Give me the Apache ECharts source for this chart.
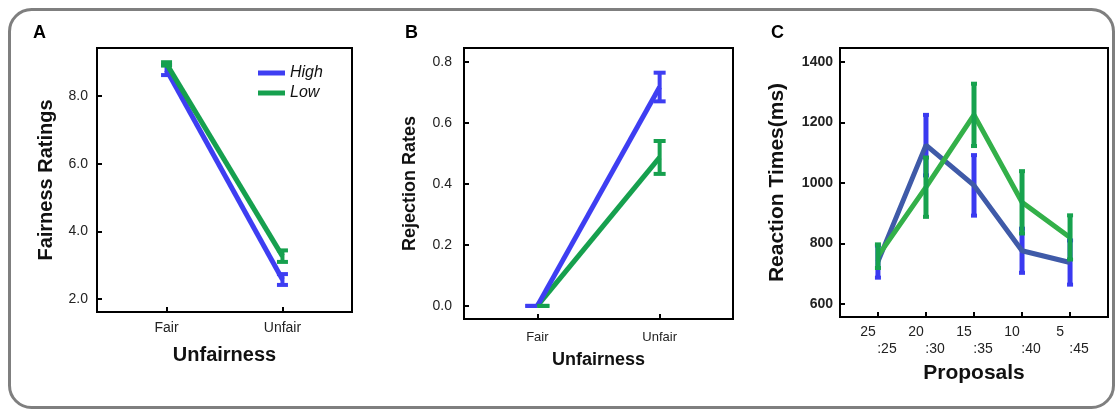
<!DOCTYPE html>
<html><head><meta charset="utf-8">
<script src="https://cdn.jsdelivr.net/npm/echarts@6/dist/echarts.min.js"></script>
<style>html,body{margin:0;padding:0;background:#fff}#c{width:1115px;height:410px}</style>
</head><body><div id="c"></div>
<script>
// ---- Data ----
const unfairnessCats = ['Fair', 'Unfair'];
const fairHighMean = [8.77, 2.58];
const fairHighErr  = [0.15, 0.16];
const fairLowMean  = [8.95, 3.27];
const fairLowErr   = [0.05, 0.17];
const fairTicks = [2, 4, 6, 8];

const rejHighMean = [0, 0.718];
const rejHighErr  = [0, 0.047];
const rejLowMean  = [0, 0.487];
const rejLowErr   = [0, 0.054];
const rejTicks = [0, 0.2, 0.4, 0.6, 0.8];

const proposalTop    = ['25', '20', '15', '10', '5'];
const proposalBottom = [':25', ':30', ':35', ':40', ':45'];
const rtHighMean = [740, 1125, 992, 776, 737];
const rtHighErr  = [53, 100, 100, 73, 73];
const rtLowMean  = [758, 986, 1225, 936, 820];
const rtLowErr   = [39, 98, 103, 103, 73];
const rtTicks = [600, 800, 1000, 1200, 1400];

// ---- Style ----
const FONT = "'Liberation Sans', Arial, Helvetica, sans-serif";
const BLUE = '#3e3ef2';
const GREEN = '#16a04e';
const C_BLUE_LINE = '#3f5aa8';
const C_GREEN_LINE = '#33b049';
const C_BLUE_ERR = '#3a3af0';
const C_GREEN_ERR = '#17a24e';

function idx(a) { return a.map((_, i) => i); }
function lineData(means) { return means.map((m, i) => [i, m]); }
function errData(means, errs) { return means.map((m, i) => [i, m - errs[i], m + errs[i]]); }

function errRender(color, lw, capW, capT, zeroSide) {
  return function (params, api) {
    const x = api.value(0), lo = api.value(1), hi = api.value(2);
    const p1 = api.coord([x, lo]), p2 = api.coord([x, hi]);
    let a = p1[0] - capW / 2, b = p1[0] + capW / 2;
    if (hi === lo && zeroSide) {
      if (zeroSide < 0) { a = p1[0] - capW; b = p1[0]; }
      else { a = p1[0]; b = p1[0] + capW; }
    }
    const st = { stroke: color, lineWidth: capT };
    return {
      type: 'group',
      children: [
        { type: 'line', shape: { x1: p1[0], y1: p1[1], x2: p2[0], y2: p2[1] }, style: { stroke: color, lineWidth: lw } },
        { type: 'line', shape: { x1: a, y1: p1[1], x2: b, y2: p1[1] }, style: st },
        { type: 'line', shape: { x1: a, y1: p2[1], x2: b, y2: p2[1] }, style: st }
      ]
    };
  };
}

function xAx(g, min, max, ticks, fmt, labelOpt, name, nameGap, nameSize) {
  return {
    gridIndex: g, type: 'value', min: min, max: max,
    splitLine: { show: false }, axisLine: { show: false, onZero: false },
    axisTick: { show: true, inside: true, length: 5, customValues: ticks, lineStyle: { color: '#000', width: 2 } },
    axisLabel: Object.assign({ customValues: ticks, formatter: fmt, color: '#222', fontFamily: FONT }, labelOpt),
    name: name, nameLocation: 'middle', nameGap: nameGap,
    nameTextStyle: { fontWeight: 'bold', fontSize: nameSize, color: '#111', fontFamily: FONT }
  };
}
function yAx(g, min, max, ticks, fmt, labelOpt, name, nameGap, nameSize) {
  return {
    gridIndex: g, type: 'value', min: min, max: max,
    splitLine: { show: false }, axisLine: { show: false, onZero: false },
    axisTick: { show: true, inside: true, length: 5, customValues: ticks, lineStyle: { color: '#000', width: 2 } },
    axisLabel: Object.assign({ customValues: ticks, formatter: fmt, color: '#222', fontFamily: FONT }, labelOpt),
    name: name, nameLocation: 'middle', nameGap: nameGap, nameRotate: 90,
    nameTextStyle: { fontWeight: 'bold', fontSize: nameSize, color: '#111', fontFamily: FONT }
  };
}

const chart = echarts.init(document.getElementById('c'), null, { renderer: 'canvas' });
const gridBase = { show: true, borderColor: '#000', borderWidth: 2, backgroundColor: 'transparent', containLabel: false };

const option = {
  animation: false,
  textStyle: { fontFamily: FONT },
  grid: [
    Object.assign({ left: 97, top: 48, width: 255, height: 264 }, gridBase),
    Object.assign({ left: 464, top: 48, width: 269, height: 271 }, gridBase),
    Object.assign({ left: 840, top: 48, width: 268, height: 269 }, gridBase)
  ],
  xAxis: [
    xAx(0, -0.6, 1.6, idx(unfairnessCats), v => unfairnessCats[Math.round(v)], { fontSize: 14, margin: 9 }, 'Unfairness', 33, 20),
    xAx(1, -0.6, 1.6, idx(unfairnessCats), v => unfairnessCats[Math.round(v)], { fontSize: 13, margin: 12 }, 'Unfairness', 32, 18),
    xAx(2, -0.79, 4.79, idx(proposalTop), v => '{a|' + proposalTop[Math.round(v)] + '}\n{b|' + proposalBottom[Math.round(v)] + '}',
      { margin: 7, lineHeight: 17, rich: {
        a: { fontSize: 14, color: '#222', padding: [0, 20, 0, 0], fontFamily: FONT, lineHeight: 17 },
        b: { fontSize: 14, color: '#222', padding: [0, 0, 0, 18], fontFamily: FONT, lineHeight: 17 } } },
      'Proposals', 41, 21)
  ],
  yAxis: [
    yAx(0, 1.62, 9.42, fairTicks, v => v.toFixed(1), { fontSize: 14, margin: 9 }, 'Fairness Ratings', 41, 20),
    yAx(1, -0.043, 0.846, rejTicks, v => v.toFixed(1), { fontSize: 14, margin: 12 }, 'Rejection Rates', 45, 18),
    yAx(2, 557, 1446, rtTicks, v => String(v), { fontSize: 14, fontWeight: 'bold', margin: 7 }, 'Reaction Times(ms)', 52, 21)
  ],
  legend: {
    data: ['High', 'Low'], selectedMode: false, orient: 'vertical', padding: 0,
    left: 258, top: 65, itemGap: 4, itemWidth: 27, itemHeight: 5, icon: 'rect',
    textStyle: { fontStyle: 'italic', fontSize: 16, color: '#111', fontFamily: FONT }
  },
  series: [
    // Panel A
    { name: 'High', type: 'line', xAxisIndex: 0, yAxisIndex: 0, data: lineData(fairHighMean), symbol: 'none', color: BLUE, lineStyle: { width: 5, color: BLUE } },
    { name: 'Low', type: 'line', xAxisIndex: 0, yAxisIndex: 0, data: lineData(fairLowMean), symbol: 'none', color: GREEN, lineStyle: { width: 5, color: GREEN } },
    { type: 'custom', xAxisIndex: 0, yAxisIndex: 0, data: errData(fairHighMean, fairHighErr), renderItem: errRender(BLUE, 4, 11, 4, 0), z: 3 },
    { type: 'custom', xAxisIndex: 0, yAxisIndex: 0, data: errData(fairLowMean, fairLowErr), renderItem: errRender(GREEN, 4, 11, 4, 0), z: 3 },
    // Panel B
    { name: 'High', type: 'line', xAxisIndex: 1, yAxisIndex: 1, data: lineData(rejHighMean), symbol: 'none', color: BLUE, lineStyle: { width: 5, color: BLUE }, z: 3 },
    { name: 'Low', type: 'line', xAxisIndex: 1, yAxisIndex: 1, data: lineData(rejLowMean), symbol: 'none', color: GREEN, lineStyle: { width: 5, color: GREEN }, z: 2 },
    { type: 'custom', xAxisIndex: 1, yAxisIndex: 1, data: errData(rejHighMean, rejHighErr), renderItem: errRender(BLUE, 4, 12, 4, -1), z: 4 },
    { type: 'custom', xAxisIndex: 1, yAxisIndex: 1, data: errData(rejLowMean, rejLowErr), renderItem: errRender(GREEN, 4, 12, 4, 1), z: 4 },
    // Panel C
    { name: 'High', type: 'line', xAxisIndex: 2, yAxisIndex: 2, data: lineData(rtHighMean), symbol: 'none', color: C_BLUE_LINE, lineStyle: { width: 5, color: C_BLUE_LINE } },
    { name: 'Low', type: 'line', xAxisIndex: 2, yAxisIndex: 2, data: lineData(rtLowMean), symbol: 'none', color: C_GREEN_LINE, lineStyle: { width: 5, color: C_GREEN_LINE } },
    { type: 'custom', xAxisIndex: 2, yAxisIndex: 2, data: errData(rtHighMean, rtHighErr), renderItem: errRender(C_BLUE_ERR, 5, 6, 4, 0), z: 3 },
    { type: 'custom', xAxisIndex: 2, yAxisIndex: 2, data: errData(rtLowMean, rtLowErr), renderItem: errRender(C_GREEN_ERR, 5, 6, 4, 0), z: 4 }
  ],
  graphic: [
    { type: 'rect', shape: { x: 9.5, y: 9.5, width: 1104, height: 398, r: 22 }, style: { fill: 'none', stroke: '#7f7f7f', lineWidth: 3 }, z: -1 },
    { type: 'text', left: 33, top: 24, style: { text: 'A', fontSize: 18, fontWeight: 'bold', fill: '#000', fontFamily: FONT } },
    { type: 'text', left: 405, top: 24, style: { text: 'B', fontSize: 18, fontWeight: 'bold', fill: '#000', fontFamily: FONT } },
    { type: 'text', left: 771, top: 24, style: { text: 'C', fontSize: 18, fontWeight: 'bold', fill: '#000', fontFamily: FONT } }
  ]
};
chart.setOption(option);
</script>
</body></html>
